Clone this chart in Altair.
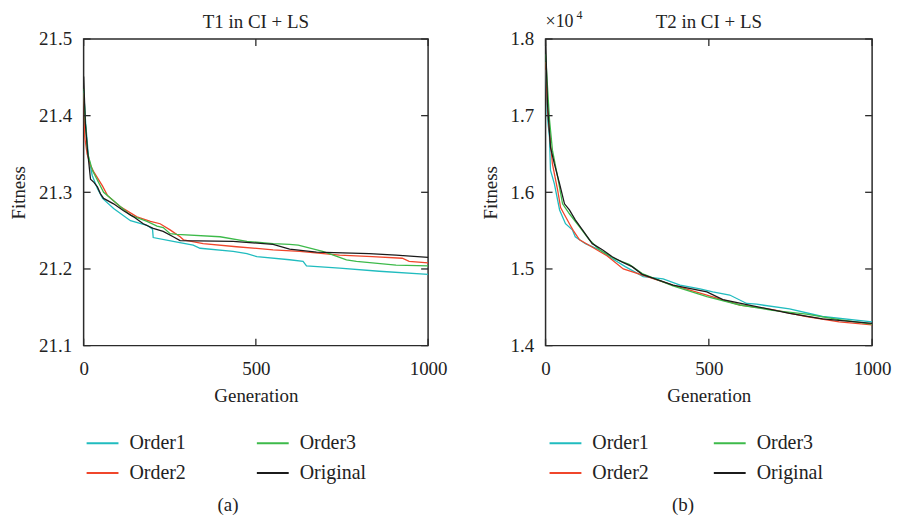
import altair as alt
import pandas as pd

FONT = "Liberation Serif"
INK = "#222222"
FRAME = "#2b2b2b"

SERIES = ["Order1", "Order2", "Order3", "Original"]
COLORS = ["#20bcbf", "#f0462b", "#3dba4a", "#1b1b1b"]

X_TICKS = [0, 500, 1000]
T1_TICKS = [21.1, 21.2, 21.3, 21.4, 21.5]
T2_TICKS = [1.4, 1.5, 1.6, 1.7, 1.8]

TITLES = ["T1 in CI + LS", "T2 in CI + LS"]
CAPTIONS = ["(a)", "(b)"]
SCALE_NOTE = ["\u00d710", "4"]

# ---- T1 (left panel) ----
T1_ORDER1_GEN = [0, 6, 14, 25, 40, 55, 87, 136, 184, 200, 202, 260, 318, 338, 434, 474, 503, 598, 637, 647, 743, 858, 1000]
T1_ORDER1_VAL = [21.432, 21.39, 21.347, 21.322, 21.305, 21.292, 21.279, 21.263, 21.257, 21.252, 21.241, 21.236, 21.231, 21.227, 21.223, 21.220, 21.216, 21.212, 21.210, 21.204, 21.201, 21.197, 21.193]

T1_ORDER2_GEN = [0, 3, 10, 20, 29, 55, 69, 107, 155, 194, 222, 251, 280, 290, 347, 444, 550, 627, 743, 838, 925, 945, 1000]
T1_ORDER2_VAL = [21.43, 21.373, 21.35, 21.335, 21.327, 21.308, 21.296, 21.281, 21.268, 21.262, 21.259, 21.251, 21.242, 21.238, 21.233, 21.229, 21.225, 21.223, 21.218, 21.216, 21.214, 21.210, 21.208]

T1_ORDER3_GEN = [0, 5, 12, 26, 58, 87, 136, 184, 213, 231, 251, 271, 396, 474, 550, 598, 623, 694, 763, 792, 907, 1000]
T1_ORDER3_VAL = [21.435, 21.39, 21.35, 21.328, 21.300, 21.289, 21.270, 21.262, 21.256, 21.254, 21.246, 21.245, 21.242, 21.236, 21.233, 21.232, 21.231, 21.223, 21.212, 21.210, 21.205, 21.204]

T1_ORIG_GEN = [0, 5, 11, 20, 30, 40, 49, 58, 87, 116, 145, 173, 202, 231, 260, 280, 434, 550, 598, 676, 829, 907, 1000]
T1_ORIG_VAL = [21.451, 21.39, 21.356, 21.317, 21.313, 21.307, 21.298, 21.292, 21.285, 21.276, 21.268, 21.259, 21.253, 21.249, 21.242, 21.237, 21.236, 21.232, 21.226, 21.222, 21.220, 21.218, 21.215]

# ---- T2 (right panel, x10^4) ----
T2_ORDER1_GEN = [0, 5, 12, 15, 27, 43, 61, 82, 91, 122, 165, 195, 244, 299, 360, 412, 473, 512, 564, 616, 646, 747, 848, 1000]
T2_ORDER1_VAL = [1.76, 1.70, 1.672, 1.629, 1.611, 1.577, 1.559, 1.551, 1.542, 1.533, 1.525, 1.516, 1.503, 1.490, 1.487, 1.479, 1.474, 1.470, 1.466, 1.455, 1.454, 1.448, 1.438, 1.431]

T2_ORDER2_GEN = [0, 6, 21, 37, 46, 55, 73, 85, 104, 137, 189, 238, 290, 390, 494, 595, 695, 799, 899, 1000]
T2_ORDER2_VAL = [1.77, 1.707, 1.637, 1.603, 1.580, 1.573, 1.559, 1.550, 1.538, 1.530, 1.517, 1.500, 1.493, 1.479, 1.466, 1.453, 1.447, 1.438, 1.431, 1.427]

T2_ORDER3_GEN = [0, 12, 21, 37, 52, 73, 104, 134, 165, 213, 256, 296, 390, 494, 595, 695, 799, 899, 1000]
T2_ORDER3_VAL = [1.78, 1.695, 1.655, 1.620, 1.585, 1.572, 1.555, 1.538, 1.525, 1.513, 1.506, 1.494, 1.478, 1.464, 1.453, 1.446, 1.441, 1.434, 1.428]

T2_ORIG_GEN = [0, 6, 15, 27, 43, 58, 73, 91, 113, 143, 174, 204, 235, 265, 296, 390, 494, 543, 646, 747, 848, 1000]
T2_ORIG_VAL = [1.80, 1.715, 1.659, 1.637, 1.611, 1.585, 1.577, 1.564, 1.551, 1.533, 1.525, 1.516, 1.509, 1.503, 1.493, 1.479, 1.470, 1.460, 1.451, 1.442, 1.435, 1.429]


def long_table(pairs):
    rows = []
    for name, gens, vals in pairs:
        for g, v in zip(gens, vals):
            rows.append({"series": name, "gen": g, "fitness": v})
    return pd.DataFrame(rows)


T1 = long_table([
    ("Order1", T1_ORDER1_GEN, T1_ORDER1_VAL),
    ("Order2", T1_ORDER2_GEN, T1_ORDER2_VAL),
    ("Order3", T1_ORDER3_GEN, T1_ORDER3_VAL),
    ("Original", T1_ORIG_GEN, T1_ORIG_VAL),
])
T2 = long_table([
    ("Order1", T2_ORDER1_GEN, T2_ORDER1_VAL),
    ("Order2", T2_ORDER2_GEN, T2_ORDER2_VAL),
    ("Order3", T2_ORDER3_GEN, T2_ORDER3_VAL),
    ("Original", T2_ORIG_GEN, T2_ORIG_VAL),
])


def text_layer(label, size, x, y, align="center"):
    return alt.Chart(pd.DataFrame({"label": [label]})).mark_text(
        font=FONT, fontSize=size, color=INK, align=align, baseline="alphabetic"
    ).encode(text="label:N", x=alt.value(x), y=alt.value(y))


def panel(data, yticks, title, w, h, leg_x, leg_y, col_pad, caption, cap_x, cap_y, extra=None):
    x_enc = alt.X(
        "gen:Q",
        scale=alt.Scale(domain=[0, 1000], nice=False, zero=False),
        axis=alt.Axis(values=X_TICKS, format="d", title="Generation",
                      labelFlush=False, labelPadding=14, titlePadding=8),
    )
    y_enc = alt.Y(
        "fitness:Q",
        scale=alt.Scale(domain=[yticks[0], yticks[-1]], nice=False, zero=False),
        axis=alt.Axis(values=yticks, format=".1f", title="Fitness",
                      labelPadding=12, titlePadding=10),
    )
    lines = alt.Chart(data).mark_line(strokeWidth=1.3, clip=True).encode(
        x=x_enc,
        y=y_enc,
        color=alt.Color(
            "series:N",
            scale=alt.Scale(domain=SERIES, range=COLORS),
            legend=alt.Legend(
                orient="none", legendX=leg_x, legendY=leg_y, columns=2,
                title=None, symbolType="stroke", symbolSize=1024,
                symbolStrokeWidth=2, labelFont=FONT, labelFontSize=20,
                labelColor=INK, labelOffset=10, columnPadding=col_pad,
                rowPadding=3,
            ),
        ),
    )
    ytd = pd.DataFrame({"fitness": yticks})
    xtd = pd.DataFrame({"gen": X_TICKS})
    rule = dict(color=FRAME, strokeWidth=1.3)
    y_left = alt.Chart(ytd).mark_rule(**rule).encode(
        y="fitness:Q", x=alt.value(0), x2=alt.value(7))
    y_right = alt.Chart(ytd).mark_rule(**rule).encode(
        y="fitness:Q", x=alt.value(w - 7), x2=alt.value(w))
    x_bot = alt.Chart(xtd).mark_rule(**rule).encode(
        x="gen:Q", y=alt.value(h - 7), y2=alt.value(h))
    x_top = alt.Chart(xtd).mark_rule(**rule).encode(
        x="gen:Q", y=alt.value(0), y2=alt.value(7))
    ttl = text_layer(title, 19, w / 2, -11)
    cap = text_layer(caption, 19, cap_x, cap_y)
    layers = [lines, y_left, y_right, x_bot, x_top, ttl, cap] + (extra or [])
    return alt.layer(*layers).properties(width=w, height=h)


note_base = text_layer(SCALE_NOTE[0], 18, 0, -12, align="left")
note_exp = text_layer(SCALE_NOTE[1], 12, 31, -20, align="left")

left = panel(T1, T1_TICKS, TITLES[0], 346, 308, 2, 389, 67, CAPTIONS[0], 145, 474)
right = panel(T2, T2_TICKS, TITLES[1], 328, 308, 3, 389, 61, CAPTIONS[1], 138, 474,
              extra=[note_base, note_exp])

chart = (
    alt.hconcat(left, right, spacing=32)
    .resolve_scale(x="independent", y="independent", color="independent")
    .resolve_legend(color="independent")
    .properties(padding={"left": 9, "top": 7, "right": 5, "bottom": 5}, background="white")
    .configure_view(stroke=FRAME, strokeWidth=1.5)
    .configure_axis(
        labelFont=FONT, labelFontSize=19, labelColor=INK,
        titleFont=FONT, titleFontSize=19, titleFontWeight="normal", titleColor=INK,
        ticks=False, tickSize=0, domain=False, grid=False,
    )
)

chart.save("out.html", embed_options={"renderer": "svg", "actions": False})
